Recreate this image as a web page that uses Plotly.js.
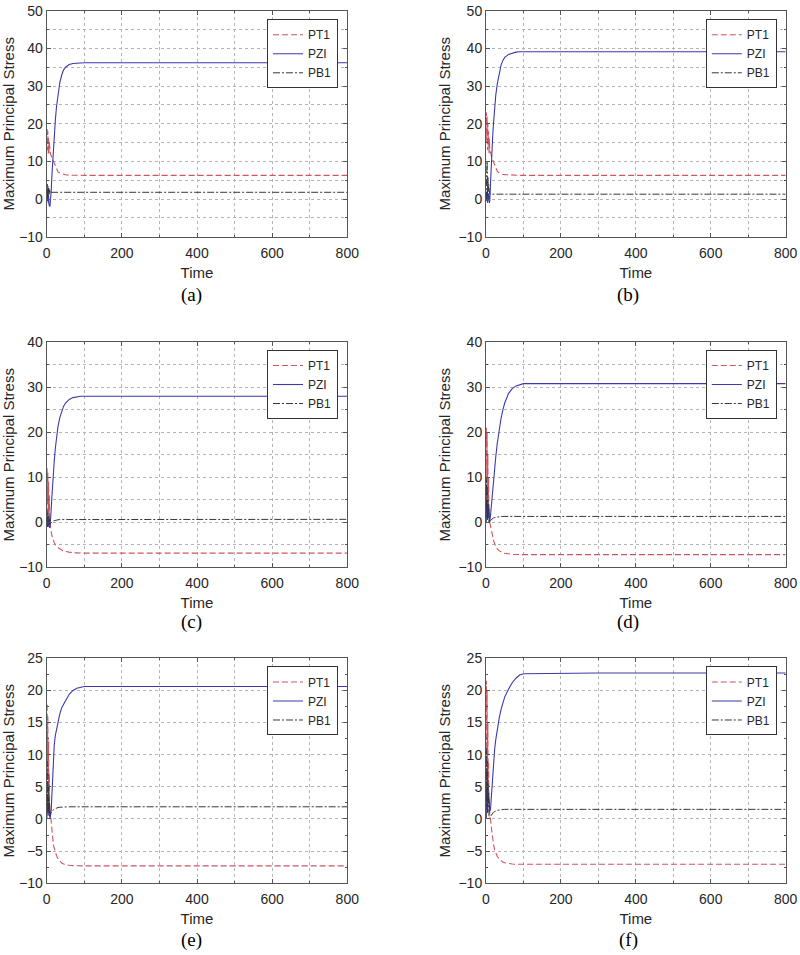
<!DOCTYPE html>
<html>
<head>
<meta charset="utf-8">
<script src="https://cdn.plot.ly/plotly-3.0.1.min.js"></script>
<style>html,body{margin:0;padding:0;background:#fff;}#chart{width:800px;height:955px;}</style>
</head>
<body>
<div id="chart"></div>
<script>
// Shared time axis
const time = [0,1,2,3,4,5,6,7,8,9,10,12,14,16,18,20,23,26,30,35,40,45,50,60,70,80,90,100,200,300,400,500,600,700,800];

const seriesNames = ["PT1", "PZI", "PB1"];
const panelLabels = ["(a)", "(b)", "(c)", "(d)", "(e)", "(f)"];
const xTickLabels = ["0", "200", "400", "600", "800"];

// Panel (a)
const pt1_a = [17,19,13,18,12,16.5,12,15,12,13.5,12, 11.5,11,10.6,10.2,9.4, 8.5,7.8,7.2,6.9,6.7,6.55,6.45, 6.35,6.3,6.3,6.3,6.3, 6.3,6.3,6.3,6.3,6.3,6.3,6.3];
const pzi_a = [0,1.5,-0.5,1.2,-1.0,0.8,-1.5,-1.8,-2.0,-1.6,-0.6, 2.5,6.5,10.5,14,17.5, 21,24.5,28,31,33,34.3,35, 35.7,36.0,36.1,36.2,36.2, 36.2,36.2,36.2,36.2,36.2,36.2,36.2];
const pb1_a = [0,4,1,3.5,0.5,3,1,2.5,1.5,2.2,1.8, 1.8,1.8,1.8,1.8,1.8, 1.8,1.8,1.8,1.8,1.8,1.8,1.8, 1.8,1.8,1.8,1.8,1.8, 1.8,1.8,1.8,1.8,1.8,1.8,1.8];

// Panel (b)
const pt1_b = [20,23,15,22,13,20,14,18,12,16,13, 12,11.5,11,10.4,9.8, 8.9,8.1,7.4,7.0,6.75,6.6,6.5, 6.4,6.35,6.3,6.3,6.3, 6.3,6.3,6.3,6.3,6.3,6.3,6.3];
const pzi_b = [0,2,-0.5,1.5,-1,1.5,0.5,1.5,0,-1,-0.5, 4,9.5,13,17,20, 24,27.5,30.5,33.5,35.5,36.8,37.6, 38.4,38.8,39.0,39.1,39.1, 39.1,39.1,39.1,39.1,39.1,39.1,39.1];
const pb1_b = [0,8,2,10,1,6,2,4,1.5,2,1.3, 1.3,1.3,1.3,1.3,1.3, 1.3,1.3,1.3,1.3,1.3,1.3,1.3, 1.3,1.3,1.3,1.3,1.3, 1.3,1.3,1.3,1.3,1.3,1.3,1.3];

// Panel (c)
const pt1_c = [10,12,4,11,2,9,1,6,0.5,-0.5,-1.2, -2.2,-3,-3.6,-4.1,-4.5, -5,-5.3,-5.6,-5.9,-6.2,-6.4,-6.5, -6.7,-6.8,-6.8,-6.85,-6.85, -6.85,-6.85,-6.85,-6.85,-6.85,-6.85,-6.85];
const pzi_c = [0,1,-0.5,0.8,-1,0.5,-0.8,-1,-1.2,-0.8,0, 3,6,9,11.5,13.5, 16.5,19,21.3,23.3,24.8,25.8,26.5, 27.3,27.7,27.9,28,28, 28,28,28,28,28,28,28];
const pb1_c = [0,3,-1,2,0,1.5,-0.5,1,-0.5,0,-0.3, -0.1,0.1,0.2,0.3,0.35, 0.45,0.5,0.55,0.6,0.6,0.65,0.65, 0.65,0.65,0.65,0.65,0.65, 0.65,0.65,0.65,0.65,0.65,0.65,0.65];

// Panel (d)
const pt1_d = [18,21,10,20,6,15,3,10,1,3,0, -1,-1.8,-2.6,-3.3,-4, -4.8,-5.4,-5.9,-6.3,-6.6,-6.8,-6.9, -7.05,-7.1,-7.15,-7.2,-7.2, -7.2,-7.2,-7.2,-7.2,-7.2,-7.2,-7.2];
const pzi_d = [0,5,1,4,0.5,3,2,4,1,0,0.2, 1.5,3.5,5.5,7.3,9, 11.8,14.5,17.5,20.5,23,25,26.5, 28.6,29.7,30.3,30.6,30.8, 30.8,30.8,30.8,30.8,30.8,30.8,30.8];
const pb1_d = [0,10,3,8,1,5,2,3,0,0.3,0.2, 0.4,0.6,0.75,0.85,0.95, 1.05,1.12,1.2,1.25,1.28,1.3,1.3, 1.3,1.3,1.3,1.3,1.3, 1.3,1.3,1.3,1.3,1.3,1.3,1.3];

// Panel (e)
const pt1_e = [14,18,8,16,4,12,2,7,1,2,1, -0.5,-2,-3.2,-4.1,-4.5, -5.2,-5.7,-6.2,-6.6,-6.85,-7.0,-7.1, -7.2,-7.25,-7.3,-7.3,-7.3, -7.3,-7.3,-7.3,-7.3,-7.3,-7.3,-7.3];
const pzi_e = [0,4,1,3,0.5,2.5,1,2,0.3,0,0.5, 1.5,4,7.5,10,11.5, 13,14,15.3,16.4,17.3,17.9,18.4, 19.4,20.0,20.35,20.5,20.6, 20.6,20.6,20.6,20.6,20.6,20.6,20.6];
const pb1_e = [0,9,2,7,1,5,1.5,3,0.5,1,0.8, 1,1.2,1.35,1.45,1.55, 1.65,1.72,1.78,1.83,1.86,1.88,1.9, 1.9,1.9,1.9,1.9,1.9, 1.9,1.9,1.9,1.9,1.9,1.9,1.9];

// Panel (f)
const pt1_f = [17,21.5,10,20,6,15,3,9,1,3,0.5, 0,-1.2,-2.3,-3.2,-3.9, -4.8,-5.3,-5.8,-6.2,-6.5,-6.7,-6.8, -6.95,-7.0,-7.05,-7.05,-7.05, -7.05,-7.05,-7.05,-7.05,-7.05,-7.05,-7.05];
const pzi_f = [0,6,2,7,1,5,3,4,2,1.5,1.2, 1.5,3.5,5.5,7.3,9, 10.8,12.3,14,15.6,17,18.1,19, 20.2,21.2,21.9,22.4,22.6, 22.7,22.7,22.7,22.7,22.7,22.7,22.7];
const pb1_f = [0,11,3,9,1,6,2,4,0.5,0,0.2, 0.4,0.6,0.8,0.95,1.05, 1.15,1.25,1.33,1.4,1.45,1.48,1.5, 1.5,1.5,1.5,1.5,1.5, 1.5,1.5,1.5,1.5,1.5,1.5,1.5];

const panels = [
  [pt1_a, pzi_a, pb1_a],
  [pt1_b, pzi_b, pb1_b],
  [pt1_c, pzi_c, pb1_c],
  [pt1_d, pzi_d, pb1_d],
  [pt1_e, pzi_e, pb1_e],
  [pt1_f, pzi_f, pb1_f]
];
const yRanges = [[-10,50],[-10,50],[-10,40],[-10,40],[-10,25],[-10,25]];
const yDticks = [10,10,10,10,5,5];

const lineStyles = [
  {color: '#cc5560', width: 1.1, dash: '6px,3px'},
  {color: '#3a3aaa', width: 1.1, dash: 'solid'},
  {color: '#383838', width: 1, dash: '7px,2px,2px,2px'}
];

const xDomains = [[0.0584, 0.4341], [0.6075, 0.9821]];
const yDomains = [[0.7521, 0.9888], [0.4060, 0.6416], [0.0751, 0.3107]];
const legendX = [0.4225, 0.971];
const legendY = [0.9798, 0.6335, 0.3021];
const captionX = [0.2388, 0.785];
const captionY = [0.6911, 0.3487, 0.0157];

const gridColor = '#b4b4b4';
const axisColor = '#555555';
const textColor = '#262626';

const traces = [];
const layout = {
  width: 800, height: 955,
  margin: {l: 0, r: 0, t: 0, b: 0},
  paper_bgcolor: '#ffffff', plot_bgcolor: '#ffffff',
  showlegend: true,
  font: {family: 'Liberation Sans, Arial, sans-serif', color: textColor},
  annotations: []
};

panels.forEach((series, i) => {
  const col = i % 2, row = Math.floor(i / 2);
  const sfx = i === 0 ? '' : String(i + 1);
  const legName = 'legend' + sfx;
  series.forEach((vals, k) => {
    traces.push({
      type: 'scatter', mode: 'lines',
      x: time, y: vals,
      name: seriesNames[k],
      xaxis: 'x' + sfx, yaxis: 'y' + sfx,
      legend: legName,
      line: Object.assign({}, lineStyles[k]),
      hoverinfo: 'skip'
    });
  });
  const common = {
    showline: true, linecolor: axisColor, linewidth: 1, mirror: 'ticks',
    ticks: 'inside', ticklen: 4, tickcolor: axisColor,
    showgrid: true, gridcolor: gridColor, griddash: 'dot', gridwidth: 1,
    zeroline: false, automargin: false,
    tickfont: {size: 14, family: 'Liberation Sans, Arial, sans-serif', color: textColor}
  };
  layout['xaxis' + sfx] = Object.assign({}, common, {
    domain: xDomains[col], anchor: 'y' + sfx,
    range: [0, 800], tickmode: 'array', tickvals: xTickLabels.map(Number), ticktext: xTickLabels,
    ticklabelstandoff: 3,
    minor: {dtick: 100, tick0: 0, showgrid: true, gridcolor: gridColor, griddash: 'dot', ticks: 'inside', ticklen: 2, tickcolor: axisColor},
    title: {text: 'Time', font: {size: 15, color: textColor}, standoff: 7}
  });
  const yMinor = yDticks[i] === 10
    ? {dtick: 5, tick0: 0, showgrid: true, gridcolor: gridColor, griddash: 'dot', ticks: 'inside', ticklen: 2, tickcolor: axisColor}
    : {dtick: 2.5, tick0: 0, showgrid: false, ticks: 'inside', ticklen: 2, tickcolor: axisColor};
  layout['yaxis' + sfx] = Object.assign({}, common, {
    domain: yDomains[row], anchor: 'x' + sfx,
    range: yRanges[i], dtick: yDticks[i], tick0: 0,
    minor: yMinor,
    title: {text: 'Maximum Principal Stress', font: {size: 15, color: textColor}, standoff: 4}
  });
  layout[legName] = {
    x: legendX[col], xanchor: 'right', xref: 'paper',
    y: legendY[row], yanchor: 'top', yref: 'paper',
    bgcolor: '#ffffff', bordercolor: '#333333', borderwidth: 1,
    font: {size: 12, color: textColor, family: 'Liberation Sans, Arial, sans-serif'},
    tracegroupgap: 0, itemwidth: 30
  };
  layout.annotations.push({
    text: panelLabels[i], xref: 'paper', yref: 'paper',
    x: captionX[col], y: captionY[row], xanchor: 'center', yanchor: 'middle',
    showarrow: false, font: {family: 'Liberation Serif, Times New Roman, serif', size: 19, color: '#000'}
  });
});

Plotly.newPlot('chart', traces, layout, {displayModeBar: false, staticPlot: true});
</script>
</body>
</html>
